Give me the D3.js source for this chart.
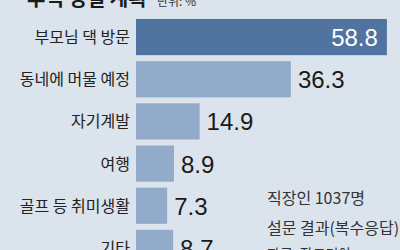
<!DOCTYPE html>
<html>
<head>
<meta charset="utf-8">
<script src="https://cdn.jsdelivr.net/npm/d3@7"></script>
<style>
  body { margin: 0; background: #dbe3ec; }
  svg { display: block; }
</style>
</head>
<body>
<div id="chart"></div>
<script>
// 추석 명절 계획 (단위: %)
var categories = ["부모님 댁 방문", "동네에 머물 예정", "자기계발", "여행", "골프 등 취미생활", "기타"];
var values = [58.8, 36.3, 14.9, 8.9, 7.3, 8.7];
var noteLines = ["직장인 1037명", "설문 결과(복수응답).", "자료: 잡코리아"];

var data = categories.map(function(c, i) { return { name: c, value: values[i] }; });

var width = 400, height = 250;
var kor = "'Noto Sans CJK KR', 'Noto Sans', sans-serif";
var num = "'Liberation Sans Narrow', 'Liberation Sans', Arial, sans-serif";

var svg = d3.select("#chart")
  .append("svg")
    .attr("width", width)
    .attr("height", height);

svg.append("rect")
  .attr("width", width)
  .attr("height", height)
  .attr("fill", "#dbe3ec");

// title (mostly cut off at the top)
svg.append("text")
  .attr("x", 27).attr("y", 6)
  .style("font-family", kor)
  .style("font-size", "20px")
  .style("font-weight", "bold")
  .attr("fill", "#1a1a1a")
  .text("추석 명절 계획");

svg.append("text")
  .attr("x", 157).attr("y", 6)
  .style("font-family", kor)
  .style("font-size", "12px")
  .attr("fill", "#333")
  .text("단위: %");

var x = d3.scaleLinear()
  .domain([0, 60])
  .range([136, 392]);

var y = d3.scaleBand()
  .domain(categories)
  .range([16, 269])
  .paddingInner(0.142)
  .paddingOuter(0.071);

// bars
svg.selectAll("rect.bar")
  .data(data)
  .enter()
  .append("rect")
    .attr("class", "bar")
    .attr("x", x(0))
    .attr("y", function(d) { return y(d.name); })
    .attr("width", function(d) { return x(d.value) - x(0); })
    .attr("height", y.bandwidth())
    .attr("fill", function(d, i) { return i == 0 ? "#5073a0" : "#93abca"; });

// category labels
svg.selectAll("text.label")
  .data(data)
  .enter()
  .append("text")
    .attr("class", "label")
    .attr("x", 130)
    .attr("y", function(d) { return y(d.name) + y.bandwidth() / 2 + 6; })
    .attr("text-anchor", "end")
    .style("font-family", kor)
    .style("font-size", "16px")
    .attr("fill", "#222")
    .text(function(d) { return d.name; });

// values
svg.selectAll("text.value")
  .data(data)
  .enter()
  .append("text")
    .attr("class", "value")
    .attr("x", function(d, i) { return i == 0 ? x(d.value) - 9 : x(d.value) + 7; })
    .attr("y", function(d) { return y(d.name) + y.bandwidth() / 2 + 9; })
    .attr("text-anchor", function(d, i) { return i == 0 ? "end" : "start"; })
    .style("font-family", num)
    .style("font-size", "24px")
    .attr("fill", function(d, i) { return i == 0 ? "#fff" : "#1a1a1a"; })
    .text(function(d) { return d.value.toFixed(1); });

// note
svg.selectAll("text.note")
  .data(noteLines)
  .enter()
  .append("text")
    .attr("class", "note")
    .attr("x", 267)
    .attr("y", function(d, i) { return [204, 234, 259][i]; })
    .style("font-family", kor)
    .style("font-size", function(d, i) { return i == 2 ? "14px" : "16px"; })
    .attr("fill", "#333")
    .text(function(d) { return d; });
</script>
</body>
</html>
